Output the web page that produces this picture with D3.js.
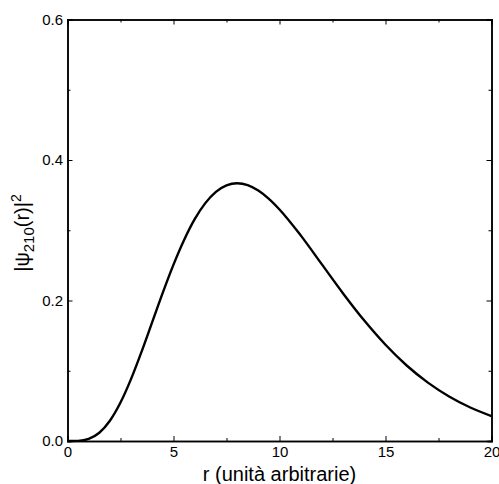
<!DOCTYPE html>
<html lang="it">
<head>
<meta charset="UTF-8">
<title>psi 210</title>
<script src="https://d3js.org/d3.v7.min.js"></script>
<style>
    body { margin: 0; background: #fff; }
    text { font-family: "Liberation Sans", Arial, sans-serif; fill: #000; }
</style>
</head>
<body>
<div id="chart"></div>
<script>
// valori
const rValues = [0, 0.5, 1, 1.5, 2, 2.5, 3, 3.5, 4, 4.5, 5, 5.5, 6, 6.5, 7, 7.5, 8, 8.5, 9, 9.5, 10, 11, 12, 13, 14, 15, 16, 17, 18, 19, 20];
const psiValues = [0, 0.0002, 0.003, 0.0117, 0.0288, 0.0547, 0.0884, 0.1276, 0.1695, 0.2115, 0.251, 0.2861, 0.3157, 0.3386, 0.3547, 0.364, 0.367, 0.3643, 0.3565, 0.3447, 0.3296, 0.2927, 0.2514, 0.2101, 0.1714, 0.137, 0.1075, 0.0831, 0.0634, 0.0477, 0.0355];
const xMajor = [0, 5, 10, 15, 20];
const xMinor = [2.5, 7.5, 12.5, 17.5];
const yMajor = [0, 0.2, 0.4, 0.6];
const yMinor = [0.1, 0.3, 0.5];

const W = 499, H = 484;
const margin = { top: 19.5, right: 7.5, bottom: 43, left: 67.5 };
const width = W - margin.left - margin.right;
const height = H - margin.top - margin.bottom;

const svg = d3.select("#chart").append("svg")
    .attr("width", W).attr("height", H);
const g = svg.append("g").attr("transform", `translate(${margin.left},${margin.top})`);

const x = d3.scaleLinear().domain([0, 20]).range([0, width]);
const y = d3.scaleLinear().domain([0, 0.6]).range([height, 0]);

// curva
const data = rValues.map((r, i) => [r, psiValues[i]]);
g.append("path")
    .datum(data)
    .attr("fill", "none")
    .attr("stroke", "#000")
    .attr("stroke-width", 2.4)
    .attr("d", d3.line().x(d => x(d[0])).y(d => y(d[1])).curve(d3.curveMonotoneX));

// assi con tacche interne su tutti i lati
g.append("g").attr("transform", `translate(0,${height})`)
    .call(d3.axisBottom(x).tickValues(xMinor).tickSize(-3).tickFormat(""));
g.append("g").attr("transform", `translate(0,${height})`)
    .call(d3.axisBottom(x).tickValues(xMajor).tickSize(-5).tickPadding(5).tickFormat(d3.format("d")));
g.append("g")
    .call(d3.axisTop(x).tickValues(xMinor).tickSize(-3).tickFormat(""));
g.append("g")
    .call(d3.axisTop(x).tickValues(xMajor).tickSize(-5).tickFormat(""));

g.append("g")
    .call(d3.axisLeft(y).tickValues(yMinor).tickSize(-3).tickFormat(""));
g.append("g")
    .call(d3.axisLeft(y).tickValues(yMajor).tickSize(-5).tickPadding(4.5).tickFormat(d3.format(".1f")));
g.append("g").attr("transform", `translate(${width},0)`)
    .call(d3.axisRight(y).tickValues(yMinor).tickSize(-3).tickFormat(""));
g.append("g").attr("transform", `translate(${width},0)`)
    .call(d3.axisRight(y).tickValues(yMajor).tickSize(-5).tickFormat(""));

g.selectAll(".domain").attr("stroke", "#000").attr("stroke-width", 1.5);
g.selectAll(".tick line").attr("stroke", "#000").attr("stroke-width", 1);
g.selectAll(".tick text").style("font-size", "15px").style("font-family", "'Liberation Sans', Arial, sans-serif");

// etichette
svg.append("text")
    .attr("x", margin.left + width / 2)
    .attr("y", 481)
    .attr("text-anchor", "middle")
    .style("font-size", "20px")
    .text("r (unità arbitrarie)");

const yl = svg.append("text")
    .attr("transform", "translate(29,233) rotate(-90)")
    .attr("text-anchor", "middle")
    .style("font-size", "20px");
yl.append("tspan").text("|ψ");
yl.append("tspan").attr("dy", 5).style("font-size", "15px").text("210");
yl.append("tspan").attr("dy", -5).text("(r)|");
yl.append("tspan").attr("dy", -8).style("font-size", "14px").text("2");
</script>
</body>
</html>
